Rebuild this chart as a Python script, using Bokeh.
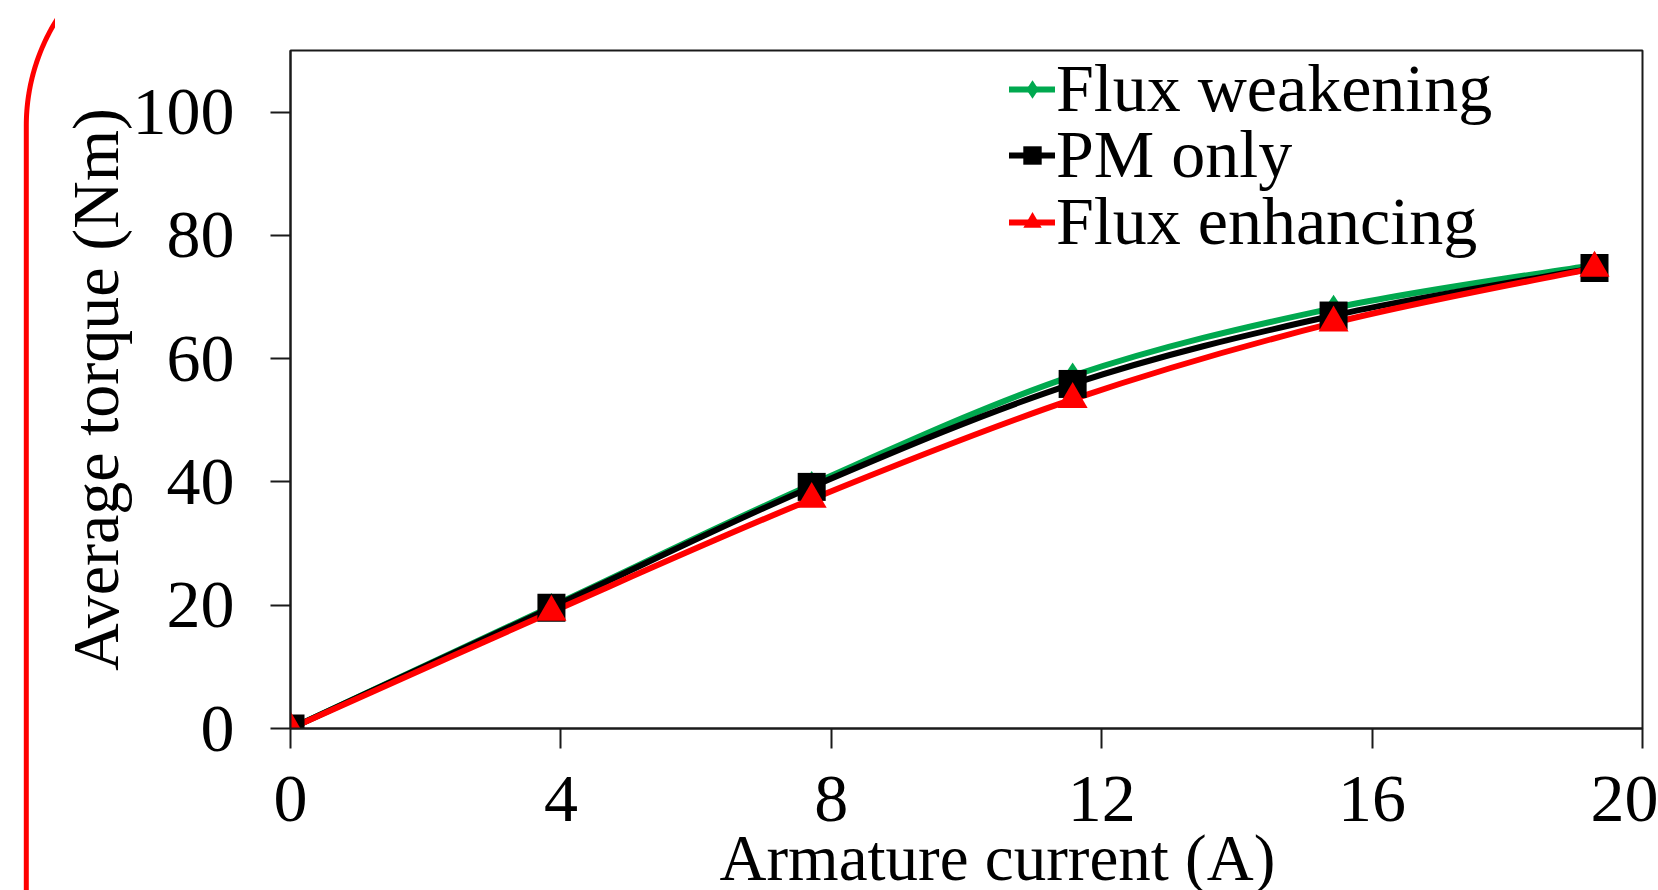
import numpy as np
from bokeh.plotting import figure
from bokeh.layouts import row
from bokeh.models import (FixedTicker, Legend, LegendItem, ColumnDataSource,
                          Range1d, Title)
from bokeh.embed import file_html
from bokeh.resources import INLINE

# ---- data ----
current = [0, 3.86, 7.71, 11.57, 15.43, 19.29]
flux_weakening = [0, 19.8, 39.6, 57.2, 68.2, 75.2]
pm_only = [0, 19.6, 39.2, 55.9, 67.0, 74.7]
flux_enhancing = [0, 18.9, 37.2, 53.4, 65.8, 74.7]

series_names = ["Flux weakening", "PM only", "Flux enhancing"]
x_ticks = [0, 4, 8, 12, 16, 20]
y_ticks = [0, 20, 40, 60, 80, 100]
x_title = "Armature current (A)"
y_title = "Average torque (Nm)"

FONT = "Liberation Serif"
DECO_W = 55
PAGE_W, PAGE_H = 1658, 890

# ---- decorative red rounded frame edge on the far left ----
deco = figure(width=DECO_W, height=PAGE_H, output_backend="svg",
              toolbar_location=None, x_axis_type=None, y_axis_type=None,
              x_range=Range1d(0, DECO_W), y_range=Range1d(PAGE_H, 0),
              min_border_left=0, min_border_right=0, min_border_top=0,
              min_border_bottom=0, outline_line_color=None)
deco.frame_align = False
deco.grid.visible = False
corner_r = 199.0
edge_x = 25.8
corner_cy = 125.0
t = np.linspace(0, np.radians(50), 60)
arc_x = list(edge_x + corner_r - corner_r * np.cos(t))[::-1]
arc_y = list(corner_cy - corner_r * np.sin(t))[::-1]
deco.line(arc_x + [edge_x], arc_y + [PAGE_H + 20], line_color="#ff0000",
          line_width=5)

# ---- main chart ----
p = figure(width=PAGE_W - DECO_W, height=PAGE_H, output_backend="svg",
           toolbar_location=None, x_range=(0, 20), y_range=(0, 110),
           min_border_left=290 - DECO_W, min_border_right=16,
           min_border_top=50, min_border_bottom=162)
p.frame_align = False
p.grid.visible = False
p.outline_line_color = "#1a1a1a"
p.outline_line_width = 2


def smooth_segments(xs, ys):
    n = len(xs)
    d = {k: [] for k in ("x0", "y0", "x1", "y1", "cx0", "cy0", "cx1", "cy1")}
    for i in range(n - 1):
        im = max(i - 1, 0)
        ip2 = min(i + 2, n - 1)
        d["x0"].append(xs[i]); d["y0"].append(ys[i])
        d["x1"].append(xs[i + 1]); d["y1"].append(ys[i + 1])
        d["cx0"].append(xs[i] + (xs[i + 1] - xs[im]) / 6.0)
        d["cy0"].append(ys[i] + (ys[i + 1] - ys[im]) / 6.0)
        d["cx1"].append(xs[i + 1] - (xs[ip2] - xs[i]) / 6.0)
        d["cy1"].append(ys[i + 1] - (ys[ip2] - ys[i]) / 6.0)
    return ColumnDataSource(d)


styles = [
    (flux_weakening, "#00a94f", "diamond", 27),
    (pm_only, "#000000", "square", 28),
    (flux_enhancing, "#ff0000", "triangle", 30),
]

line_rs = []
for ys, color, marker, size in styles:
    src = smooth_segments(current, ys)
    r = p.bezier(x0="x0", y0="y0", x1="x1", y1="y1", cx0="cx0", cy0="cy0",
                 cx1="cx1", cy1="cy1", source=src, line_color=color,
                 line_width=6, line_cap="round")
    line_rs.append(r)

marker_rs = []
for ys, color, marker, size in styles:
    r = p.scatter(current, ys, marker=marker, size=size, fill_color=color,
                  line_color=color, line_width=0)
    marker_rs.append(r)

for ax in (p.xaxis[0], p.yaxis[0]):
    ax.axis_line_color = "#1a1a1a"
    ax.axis_line_width = 2
    ax.major_tick_line_color = "#1a1a1a"
    ax.major_tick_line_width = 2
    ax.major_tick_out = 20
    ax.major_tick_in = 0
    ax.minor_tick_line_color = None
    ax.major_label_text_font = FONT
    ax.major_label_text_font_size = "68px"
    ax.major_label_text_color = "black"
    ax.axis_label_text_font = FONT
    ax.axis_label_text_font_style = "normal"
    ax.axis_label_text_color = "black"

p.xaxis[0].ticker = FixedTicker(ticks=x_ticks)
p.yaxis[0].ticker = FixedTicker(ticks=y_ticks)
p.xaxis[0].major_label_standoff = 28
p.yaxis[0].major_label_standoff = 36

p.yaxis[0].axis_label = y_title
p.yaxis[0].axis_label_text_font_size = "66px"
p.yaxis[0].axis_label_standoff = -2

# x-axis title below the axis, placed where the reference shows it
p.add_layout(Title(text=x_title, text_font=FONT, text_font_size="65px",
                   text_font_style="normal", text_color="black",
                   align="left", offset=429, standoff=-8), "below")

# one legend per row so each row sits where the reference shows it
row_bottoms = [600, 534, 467]
for name, lr, mr, vy in zip(series_names, line_rs, marker_rs, row_bottoms):
    lg = Legend(items=[LegendItem(label=name, renderers=[lr, mr])],
                location=(719, vy), padding=0, margin=0, spacing=0,
                glyph_width=46, glyph_height=60, label_standoff=1,
                label_text_font=FONT, label_text_font_size="68px",
                label_text_color="black", border_line_color=None,
                background_fill_alpha=0)
    p.add_layout(lg)

layout = row(deco, p, spacing=0)
open("out.html", "w").write(file_html(layout, INLINE))
